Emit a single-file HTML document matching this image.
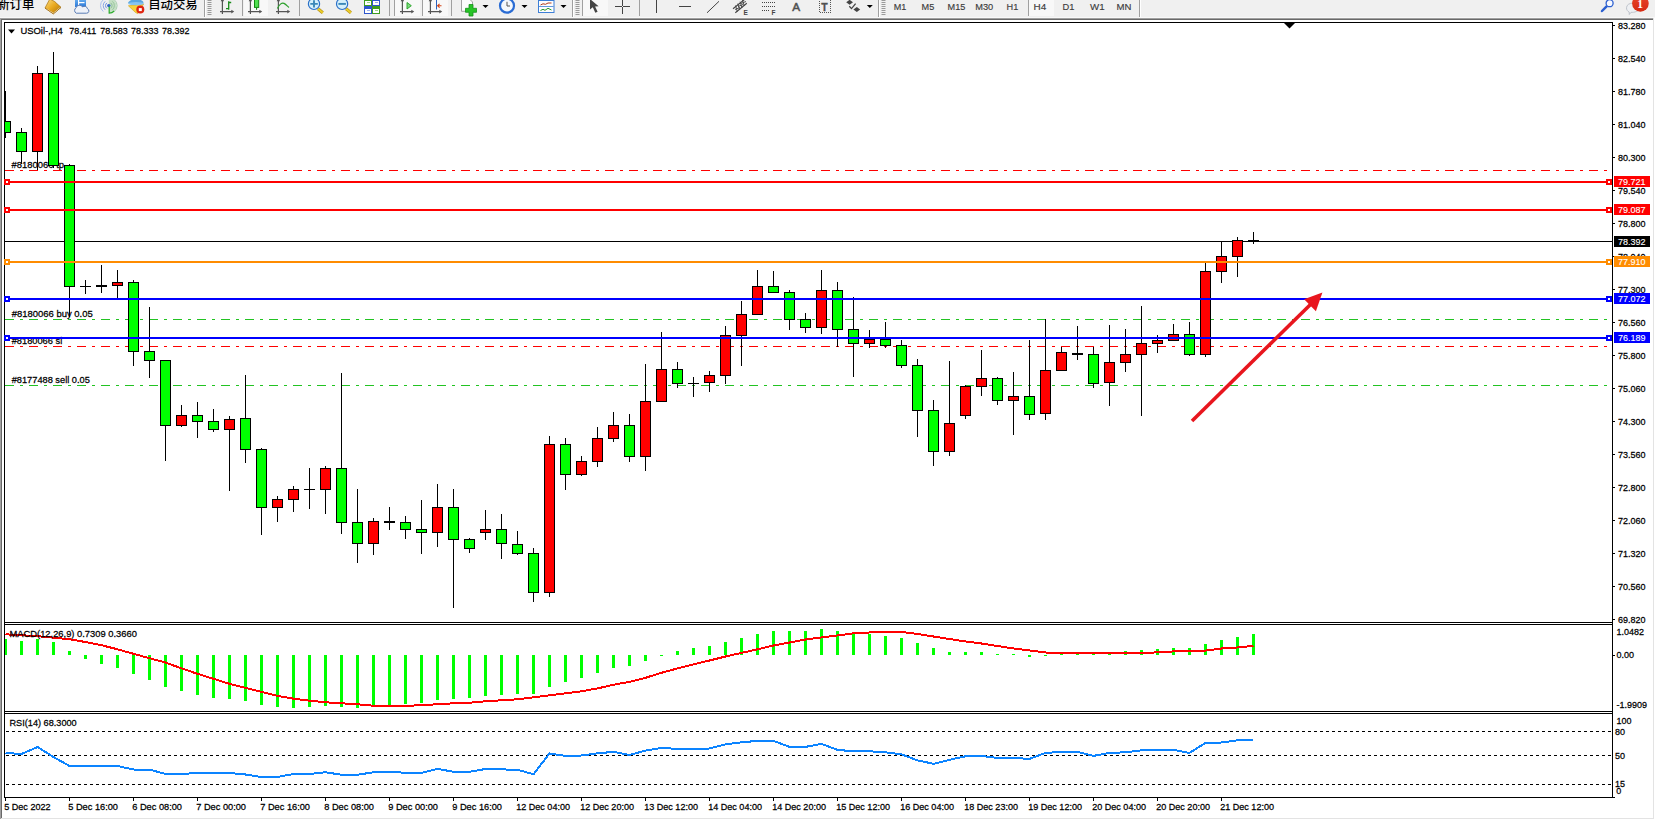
<!DOCTYPE html>
<html><head><meta charset="utf-8"><title>USOil-,H4</title>
<style>
html,body{margin:0;padding:0;background:#fff;}
body{width:1655px;height:820px;overflow:hidden;position:relative;font-family:"Liberation Sans","Noto Sans CJK SC",sans-serif;}
#tb{position:absolute;left:0;top:0;width:1655px;height:17px;background:#f0f0f0;overflow:hidden;}
#tb .t{position:absolute;white-space:nowrap;color:#404040;font-size:9px;line-height:9px;}
#tb .cj{position:absolute;white-space:nowrap;color:#000;font-size:12px;line-height:12px;font-family:"Liberation Sans","Noto Sans CJK SC",sans-serif;}
text{white-space:pre;}
</style></head>
<body>
<div id="tb">
<span class="cj" style="font-weight:500;left:-2.8px;top:-1px;font-size:12.4px;">新订单</span>
<span class="cj" style="font-weight:500;left:148.2px;top:-1px;font-size:12.4px;">自动交易</span>
<svg width="1655" height="17" viewBox="0 0 1655 17" style="position:absolute;left:0;top:0;">
<defs>
<linearGradient id="gold" x1="0" y1="0" x2="1" y2="1"><stop offset="0" stop-color="#fbe08a"/><stop offset=".5" stop-color="#e9a91f"/><stop offset="1" stop-color="#a86f0c"/></linearGradient>
<linearGradient id="redb" x1="0" y1="0" x2="0" y2="1"><stop offset="0" stop-color="#e8452c"/><stop offset="1" stop-color="#d62a12"/></linearGradient>
<linearGradient id="blu" x1="0" y1="0" x2="0" y2="1"><stop offset="0" stop-color="#6ab0f0"/><stop offset="1" stop-color="#2a78d8"/></linearGradient>
<path id="dd" d="M0 0H6L3 3Z" fill="#000"/>
<g id="grip" fill="#9a9a9a"><rect x="0" y="0" width="4" height="1"/><rect x="0" y="2" width="4" height="1"/><rect x="0" y="4" width="4" height="1"/><rect x="0" y="6" width="4" height="1"/><rect x="0" y="8" width="4" height="1"/><rect x="0" y="10" width="4" height="1"/><rect x="0" y="12" width="4" height="1"/><rect x="0" y="14" width="4" height="1"/></g>
<g id="axes"><g stroke="#555" stroke-width="1.2" fill="none"><path d="M2.900 -1V14M0.500 11.600H13"/></g><path d="M14.700 11.600L11.800 9.800V13.400Z" fill="#555"/><path d="M2.900 -2.500L1.200 1.200H4.600Z" fill="#555"/></g>
</defs>
<!-- pressed buttons -->
<g shape-rendering="crispEdges">
<rect x="244" y="0" width="24" height="16" fill="#f8f8f8"/>
<rect x="395" y="0" width="25" height="16" fill="#f8f8f8"/><rect x="394" y="0" width="1" height="16" fill="#a0a0a0"/>
<rect x="423" y="0" width="25" height="16" fill="#f8f8f8"/><rect x="422" y="0" width="1" height="16" fill="#a0a0a0"/>
<rect x="583" y="0" width="25" height="16" fill="#f8f8f8"/><rect x="582" y="0" width="1" height="16" fill="#a0a0a0"/>
<rect x="1029" y="0" width="25" height="16" fill="#f8f8f8"/><rect x="1028" y="0" width="1" height="16" fill="#a0a0a0"/>
<!-- separators -->
<g fill="#a0a0a0">
<rect x="204" y="0" width="1" height="17"/><rect x="242" y="0" width="1" height="16"/><rect x="299" y="0" width="1" height="16"/>
<rect x="389" y="0" width="1" height="16"/><rect x="451" y="0" width="1" height="16"/><rect x="572" y="0" width="1" height="17"/>
<rect x="639" y="0" width="1" height="16"/><rect x="878" y="0" width="1" height="17"/><rect x="1139" y="0" width="1" height="17"/>
</g>
<g fill="#ffffff"><rect x="205" y="0" width="1" height="17"/><rect x="573" y="0" width="1" height="17"/><rect x="879" y="0" width="1" height="17"/><rect x="1140" y="0" width="1" height="17"/></g>
</g>
<use href="#grip" x="207.5" y="0"/><use href="#grip" x="575.5" y="0"/><use href="#grip" x="881.5" y="0"/>
<!-- icon A gold tag -->
<path d="M49.800 -1L54.300 1.300L61 7.300L53.300 13.700L45 8Z" fill="url(#gold)" stroke="#a8700c" stroke-width="0.700"/>
<path d="M46.300 8.800L53.300 13.300L60.300 7.600" fill="none" stroke="#fff6d8" stroke-width="0.900"/>
<path d="M45 8L53.300 13.900L61 7.400" fill="none" stroke="#9a640a" stroke-width="0.800"/>
<!-- icon B screen + cloud -->
<rect x="75" y="-1" width="11" height="8" fill="url(#blu)"/><rect x="79" y="2" width="5.500" height="1.200" fill="#fff"/><rect x="78" y="0" width="1.200" height="6" fill="#fff"/>
<path d="M76.200 13.200A3.200 3.200 0 0 1 76 7.800A3.600 3.600 0 0 1 82.600 7A3 3 0 0 1 87.500 8.800A2.300 2.300 0 0 1 86.500 13.200Z" fill="#eef2f9" stroke="#5b7db5" stroke-width="1"/>
<!-- icon C signal -->
<path d="M108.800 -2A7.600 7.600 0 0 1 108.800 13.300Z" fill="#c4dfc4"/>
<g fill="none" stroke-width="1"><path d="M107 2.900A3.200 3.200 0 0 0 107 8.300" stroke="#6d8fe0"/><path d="M105.200 1.400A5.400 5.400 0 0 0 105.200 9.800" stroke="#86a4e6"/><path d="M103.300 -0.300A7.600 7.600 0 0 0 103.300 11.500" stroke="#a9bfee"/>
<path d="M110.600 2.900A3.200 3.200 0 0 1 110.600 8.300" stroke="#8fbf9a"/><path d="M112.400 1.400A5.400 5.400 0 0 1 112.400 9.800" stroke="#9ac79f"/><path d="M114.300 -0.300A7.600 7.600 0 0 1 114.300 11.500" stroke="#a8cfae"/></g>
<circle cx="108.800" cy="5.600" r="1.700" fill="#2f62c4"/><path d="M109.200 6.500V13.200A7.600 7.600 0 0 0 114.200 11" fill="none" stroke="#2fae2f" stroke-width="1.200"/>
<!-- icon D hat funnel stop -->
<path d="M128.400 5.800L143.600 4L137.700 13.600L135.500 12.500Z" fill="#f6d23a" stroke="#d0a012" stroke-width="0.600"/>
<path d="M128 3C130 -2 142 -2 143.600 2.500C141 5.200 131 5.400 128 3Z" fill="#5aa6e0"/><ellipse cx="136" cy="3.600" rx="7.800" ry="1.700" fill="#86c4f0"/>
<circle cx="140.300" cy="9.600" r="4" fill="#df2410"/><rect x="138.800" y="8.100" width="3" height="3" fill="#fff"/>
<!-- bars icon -->
<use href="#axes" x="219.500" y="0"/><path d="M226 8.600H228.700M228.700 1.200V9.700M228.700 2.500H231.200" fill="none" stroke="#1a8a1a" stroke-width="1.300"/>
<!-- candle icon -->
<use href="#axes" x="247.500" y="0"/><rect x="254.500" y="-1" width="4.200" height="8.400" fill="#4fe04f" stroke="#128a12" stroke-width="1"/><rect x="256" y="7.500" width="1.100" height="2.300" fill="#128a12"/>
<!-- line icon -->
<use href="#axes" x="275.500" y="0"/><path d="M277.400 8.600C279.500 4 282 2.300 284 3.400C286 4.500 287.500 6.300 289 7.500" fill="none" stroke="#2da02d" stroke-width="1.200"/>
<!-- zoom in / out -->
<g><path d="M318 8.800L322.800 12.700" stroke="#b8901a" stroke-width="3.200" stroke-linecap="butt"/><path d="M318 8.800L322.800 12.700" stroke="#ecd02a" stroke-width="1.800"/><circle cx="314" cy="3.900" r="5.600" fill="#d5f0fb" stroke="#2a70c8" stroke-width="1.200"/><path d="M310.300 3.900H317.800M314 0.200V7.600" stroke="#3a88b8" stroke-width="1.900"/></g>
<g><path d="M346.100 8.800L350.900 12.700" stroke="#b8901a" stroke-width="3.200" stroke-linecap="butt"/><path d="M346.100 8.800L350.900 12.700" stroke="#ecd02a" stroke-width="1.800"/><circle cx="342.100" cy="3.900" r="5.600" fill="#d5f0fb" stroke="#2a70c8" stroke-width="1.200"/><path d="M338.400 3.900H345.900" stroke="#3a88b8" stroke-width="1.900"/></g>
<!-- grid icon -->
<g shape-rendering="crispEdges"><rect x="364" y="-1" width="8" height="7" fill="#3f9e1f"/><rect x="372" y="-1" width="8" height="7" fill="#2d55cc"/><rect x="364" y="6" width="8" height="8" fill="#2d55cc"/><rect x="372" y="6" width="8" height="8" fill="#3f9e1f"/>
<rect x="365" y="1" width="6" height="4" fill="#fff"/><rect x="373" y="1" width="6" height="4" fill="#fff"/><rect x="365" y="9" width="6" height="4" fill="#fff"/><rect x="373" y="9" width="6" height="4" fill="#fff"/>
<rect x="366.500" y="2" width="3.500" height="1" fill="#9ed08a"/><rect x="374.500" y="2" width="3.500" height="1" fill="#9ab0ee"/><rect x="366.500" y="10" width="3.500" height="1" fill="#9ab0ee"/><rect x="374.500" y="10" width="3.500" height="1" fill="#9ed08a"/></g>
<!-- autoscroll -->
<use href="#axes" x="399.500" y="0"/><path d="M407 2.500V9L411.300 5.700Z" fill="#7fdc7f" stroke="#23a023" stroke-width="0.900"/>
<!-- chart shift -->
<use href="#axes" x="427.500" y="0"/><rect x="436" y="0" width="1" height="9.500" fill="#2b63c0"/><path d="M441.500 5.700H437.800M439.600 3.800L437.600 5.700L439.600 7.600" fill="none" stroke="#d2461a" stroke-width="1.100"/>
<!-- new chart -->
<path d="M461.500 -1H469.500L472.500 2V11.300H461.500Z" fill="#fcfcfc" stroke="#9a9a9a" stroke-width="0.900"/>
<path d="M469 4.500H473V8.300H476.500V12.300H473V16H469V12.300H465.500V8.300H469Z" fill="#27c427" stroke="#15901a" stroke-width="0.800"/>
<use href="#dd" x="482.500" y="5"/>
<!-- clock -->
<circle cx="507" cy="5.700" r="7" fill="#f4f8fd" stroke="#2a6cd4" stroke-width="2.200"/><path d="M507 1.800V6H510" fill="none" stroke="#555" stroke-width="1"/>
<use href="#dd" x="521.500" y="5"/>
<!-- template -->
<rect x="538.500" y="-1" width="15.500" height="13.500" fill="#fdfdfd" stroke="#3d7fd6" stroke-width="1"/><rect x="538.500" y="-1" width="15.500" height="2" fill="#3d7fd6"/><rect x="539" y="6" width="14.500" height="0.800" fill="#3d7fd6"/>
<path d="M540.500 5L543 3.800L545.500 4.300L548 3L551.500 3" fill="none" stroke="#b03a1a" stroke-width="1"/><path d="M540.500 10.500L543 9.300L545 10.300L548 8.300L551.500 10" fill="none" stroke="#2a9a2a" stroke-width="1"/>
<use href="#dd" x="560.500" y="5"/>
<!-- cursor -->
<path d="M590 -1V9.600L592.800 7.300L595.300 12.800L597.600 11.800L595.100 6.500L598.600 6.300Z" fill="#444"/>
<!-- crosshair -->
<g shape-rendering="crispEdges" fill="#444"><rect x="622" y="0" width="1" height="14"/><rect x="615" y="6" width="15" height="1"/><rect x="622" y="6" width="1" height="1" fill="#f0f0f0"/>
<rect x="656" y="0" width="1" height="13"/><rect x="679" y="6" width="12" height="1"/></g>
<path d="M707 12.800L719 1.300" stroke="#444" stroke-width="1"/>
<!-- channel E -->
<g stroke="#444" stroke-width="1.100" fill="none"><path d="M733 8.800L744.500 -0.500M735.300 12.700L746.800 3.300"/><path d="M735.500 5.500L737.300 11.500M737.800 3.600L739.600 9.600M740.100 1.700L741.900 7.700M742.400 -0.200L744.200 5.800M735 9.500L740 7.500M738 6.500L743 4.500M741 3.500L746 1.500" stroke-width="0.900"/></g>
<text x="743.600" y="14.600" font-size="6.500" font-weight="bold" fill="#444" style="font-family:'Liberation Sans',sans-serif">E</text>
<!-- fibo F -->
<g stroke="#444" stroke-width="1" stroke-dasharray="1 1" shape-rendering="crispEdges"><path d="M762 2.500H775M762 6.500H775M762 10.500H770"/></g>
<text x="771.500" y="14.600" font-size="6.500" font-weight="bold" fill="#444" style="font-family:'Liberation Sans',sans-serif">F</text>
<!-- A -->
<text x="792.300" y="10.800" font-size="11.800" fill="#505050" stroke="#505050" stroke-width="0.500" style="font-family:'Liberation Sans',sans-serif">A</text>
<!-- T box -->
<rect x="819.500" y="-1" width="11" height="13.500" fill="none" stroke="#555" stroke-width="1" stroke-dasharray="1 1" shape-rendering="crispEdges"/>
<text x="821.200" y="10.800" font-size="10.500" font-weight="bold" fill="#505050" stroke="#505050" stroke-width="0.300" style="font-family:'Liberation Sans',sans-serif">T</text>
<!-- arrows icon -->
<path d="M849.600 -0.200L853 2.300L849.600 4.800L846.200 2.300Z" fill="#444"/><path d="M856.800 6.900L860.200 9.400L856.800 11.900L853.400 9.400Z" fill="#444"/><path d="M849.300 6.300L851.500 8.600L855.600 3.600" fill="none" stroke="#444" stroke-width="1.300"/>
<use href="#dd" x="866.800" y="5"/>
<!-- periods -->
<text x="893.7" y="9.6" font-size="9.3" fill="#3c3c3c" stroke="#3c3c3c" stroke-width="0.15" textLength="12.6" lengthAdjust="spacingAndGlyphs" style="font-family:'Liberation Sans',sans-serif">M1</text>
<text x="921.6" y="9.6" font-size="9.3" fill="#3c3c3c" stroke="#3c3c3c" stroke-width="0.15" textLength="12.7" lengthAdjust="spacingAndGlyphs" style="font-family:'Liberation Sans',sans-serif">M5</text>
<text x="947.6" y="9.6" font-size="9.3" fill="#3c3c3c" stroke="#3c3c3c" stroke-width="0.15" textLength="17.8" lengthAdjust="spacingAndGlyphs" style="font-family:'Liberation Sans',sans-serif">M15</text>
<text x="975.2" y="9.6" font-size="9.3" fill="#3c3c3c" stroke="#3c3c3c" stroke-width="0.15" textLength="18.0" lengthAdjust="spacingAndGlyphs" style="font-family:'Liberation Sans',sans-serif">M30</text>
<text x="1006.6" y="9.6" font-size="9.3" fill="#3c3c3c" stroke="#3c3c3c" stroke-width="0.15" textLength="11.7" lengthAdjust="spacingAndGlyphs" style="font-family:'Liberation Sans',sans-serif">H1</text>
<text x="1033.5" y="9.6" font-size="9.3" fill="#3c3c3c" stroke="#3c3c3c" stroke-width="0.15" textLength="12.7" lengthAdjust="spacingAndGlyphs" style="font-family:'Liberation Sans',sans-serif">H4</text>
<text x="1062.5" y="9.6" font-size="9.3" fill="#3c3c3c" stroke="#3c3c3c" stroke-width="0.15" textLength="11.9" lengthAdjust="spacingAndGlyphs" style="font-family:'Liberation Sans',sans-serif">D1</text>
<text x="1090" y="9.6" font-size="9.3" fill="#3c3c3c" stroke="#3c3c3c" stroke-width="0.15" textLength="14.6" lengthAdjust="spacingAndGlyphs" style="font-family:'Liberation Sans',sans-serif">W1</text>
<text x="1116.6" y="9.6" font-size="9.3" fill="#3c3c3c" stroke="#3c3c3c" stroke-width="0.15" textLength="14.9" lengthAdjust="spacingAndGlyphs" style="font-family:'Liberation Sans',sans-serif">MN</text>
<!-- search -->
<path d="M1606.600 6.300L1602 11" stroke="#2b5fd0" stroke-width="2.500" stroke-linecap="round"/><circle cx="1609.600" cy="3.200" r="3.500" fill="#f7f9ff" stroke="#2b5fd0" stroke-width="1.300"/>
<!-- bubble -->
<path d="M1626.500 7.800C1626.500 1.500 1639.500 1.500 1639.500 7.800C1639.500 11.500 1634 12.600 1631 12.300L1629.300 14.500L1629.200 12C1627.500 11.300 1626.500 9.800 1626.500 7.800Z" fill="#eef0f3" stroke="#b9bec6" stroke-width="0.900"/>
<circle cx="1640.400" cy="3.500" r="8.300" fill="url(#redb)"/>
<text x="1637.300" y="8" font-size="11.500" font-weight="bold" fill="#fff" style="font-family:'Liberation Serif',serif">1</text>
</svg>

</div>
<svg width="1655" height="820" viewBox="0 0 1655 820" style="position:absolute;left:0;top:0" shape-rendering="crispEdges">
<defs><clipPath id="cp"><rect x="5" y="23" width="1607" height="599"/></clipPath><clipPath id="cm"><rect x="5" y="625" width="1607" height="86"/></clipPath></defs>
<rect x="0" y="18" width="1655" height="1" fill="#a0a0a0"/>
<rect x="0" y="19" width="1655" height="1" fill="#696969"/>
<rect x="0" y="18" width="1" height="802" fill="#a0a0a0"/>
<rect x="1" y="19" width="1" height="801" fill="#696969"/>
<rect x="1653" y="18" width="1" height="801" fill="#e3e3e3"/>
<rect x="1654" y="18" width="1" height="802" fill="#ffffff"/>
<rect x="1" y="818" width="1653" height="1" fill="#e3e3e3"/>
<rect x="0" y="819" width="1655" height="1" fill="#ffffff"/>
<rect x="0" y="17" width="1655" height="1" fill="#f8f8f8"/>
<rect x="4" y="22" width="1609" height="1" fill="#000"/>
<rect x="4" y="22" width="1" height="776" fill="#000"/>
<rect x="1612" y="22" width="1" height="776" fill="#000"/>
<rect x="4" y="622" width="1609" height="1" fill="#000"/>
<rect x="4" y="624" width="1609" height="1" fill="#000"/>
<rect x="4" y="711" width="1609" height="1" fill="#000"/>
<rect x="4" y="713" width="1609" height="1" fill="#000"/>
<rect x="4" y="797" width="1609" height="1" fill="#000"/>
<path d="M1284 23H1295L1289.5 28.5Z" fill="#000" shape-rendering="auto"/>
<text transform="translate(11.6,168) scale(0.928,1)" font-size="9.698" fill="#000" stroke="#000" stroke-width="0.25" style="font-family:'Liberation Sans',sans-serif"  textLength="56.47" lengthAdjust="spacingAndGlyphs">#8180066 tp</text>
<text transform="translate(11.7,317) scale(0.928,1)" font-size="9.698" fill="#000" stroke="#000" stroke-width="0.25" style="font-family:'Liberation Sans',sans-serif"  textLength="87.28" lengthAdjust="spacingAndGlyphs">#8180066 buy 0.05</text>
<text transform="translate(11.7,344) scale(0.928,1)" font-size="9.698" fill="#000" stroke="#000" stroke-width="0.25" style="font-family:'Liberation Sans',sans-serif"  textLength="54.42" lengthAdjust="spacingAndGlyphs">#8180066 sl</text>
<text transform="translate(11.7,383) scale(0.928,1)" font-size="9.698" fill="#000" stroke="#000" stroke-width="0.25" style="font-family:'Liberation Sans',sans-serif"  textLength="84.16" lengthAdjust="spacingAndGlyphs">#8177488 sell 0.05</text>
<line x1="5" y1="170.5" x2="1608" y2="170.5" stroke="#ff0000" stroke-width="1" stroke-dasharray="9 6 3 6"/>
<line x1="5" y1="319.5" x2="1608" y2="319.5" stroke="#22c322" stroke-width="1" stroke-dasharray="9 6 3 6"/>
<line x1="5" y1="346.5" x2="1608" y2="346.5" stroke="#ff0000" stroke-width="1" stroke-dasharray="9 6 3 6"/>
<line x1="5" y1="385.5" x2="1608" y2="385.5" stroke="#22c322" stroke-width="1" stroke-dasharray="9 6 3 6"/>
<rect x="5" y="241" width="1607" height="1" fill="#000"/>
<g clip-path="url(#cp)">
<rect x="5" y="91" width="1" height="47" fill="#000"/>
<rect x="0" y="121" width="11" height="12" fill="#000"/>
<rect x="1" y="122" width="9" height="10" fill="#00ff00"/>
<rect x="21" y="128" width="1" height="36" fill="#000"/>
<rect x="16" y="132" width="11" height="20" fill="#000"/>
<rect x="17" y="133" width="9" height="18" fill="#00ff00"/>
<rect x="37" y="66" width="1" height="104" fill="#000"/>
<rect x="32" y="73" width="11" height="79" fill="#000"/>
<rect x="33" y="74" width="9" height="77" fill="#ff0000"/>
<rect x="53" y="52" width="1" height="116" fill="#000"/>
<rect x="48" y="73" width="11" height="93" fill="#000"/>
<rect x="49" y="74" width="9" height="91" fill="#00ff00"/>
<rect x="69" y="164" width="1" height="153" fill="#000"/>
<rect x="64" y="165" width="11" height="122" fill="#000"/>
<rect x="65" y="166" width="9" height="120" fill="#00ff00"/>
<rect x="85" y="280" width="1" height="14" fill="#000"/>
<rect x="80" y="286" width="11" height="1" fill="#000"/>
<rect x="101" y="265" width="1" height="28" fill="#000"/>
<rect x="96" y="285" width="11" height="2" fill="#000"/>
<rect x="117" y="270" width="1" height="30" fill="#000"/>
<rect x="112" y="282" width="11" height="4" fill="#000"/>
<rect x="113" y="283" width="9" height="2" fill="#ff0000"/>
<rect x="133" y="280" width="1" height="86" fill="#000"/>
<rect x="128" y="282" width="11" height="70" fill="#000"/>
<rect x="129" y="283" width="9" height="68" fill="#00ff00"/>
<rect x="149" y="307" width="1" height="71" fill="#000"/>
<rect x="144" y="351" width="11" height="10" fill="#000"/>
<rect x="145" y="352" width="9" height="8" fill="#00ff00"/>
<rect x="165" y="360" width="1" height="101" fill="#000"/>
<rect x="160" y="360" width="11" height="66" fill="#000"/>
<rect x="161" y="361" width="9" height="64" fill="#00ff00"/>
<rect x="181" y="405" width="1" height="22" fill="#000"/>
<rect x="176" y="415" width="11" height="11" fill="#000"/>
<rect x="177" y="416" width="9" height="9" fill="#ff0000"/>
<rect x="197" y="402" width="1" height="36" fill="#000"/>
<rect x="192" y="415" width="11" height="7" fill="#000"/>
<rect x="193" y="416" width="9" height="5" fill="#00ff00"/>
<rect x="213" y="409" width="1" height="23" fill="#000"/>
<rect x="208" y="421" width="11" height="9" fill="#000"/>
<rect x="209" y="422" width="9" height="7" fill="#00ff00"/>
<rect x="229" y="416" width="1" height="75" fill="#000"/>
<rect x="224" y="419" width="11" height="11" fill="#000"/>
<rect x="225" y="420" width="9" height="9" fill="#ff0000"/>
<rect x="245" y="375" width="1" height="88" fill="#000"/>
<rect x="240" y="418" width="11" height="32" fill="#000"/>
<rect x="241" y="419" width="9" height="30" fill="#00ff00"/>
<rect x="261" y="448" width="1" height="87" fill="#000"/>
<rect x="256" y="449" width="11" height="59" fill="#000"/>
<rect x="257" y="450" width="9" height="57" fill="#00ff00"/>
<rect x="277" y="496" width="1" height="26" fill="#000"/>
<rect x="272" y="499" width="11" height="9" fill="#000"/>
<rect x="273" y="500" width="9" height="7" fill="#ff0000"/>
<rect x="293" y="486" width="1" height="26" fill="#000"/>
<rect x="288" y="489" width="11" height="11" fill="#000"/>
<rect x="289" y="490" width="9" height="9" fill="#ff0000"/>
<rect x="309" y="468" width="1" height="41" fill="#000"/>
<rect x="304" y="489" width="11" height="1" fill="#000"/>
<rect x="325" y="466" width="1" height="48" fill="#000"/>
<rect x="320" y="468" width="11" height="22" fill="#000"/>
<rect x="321" y="469" width="9" height="20" fill="#ff0000"/>
<rect x="341" y="373" width="1" height="161" fill="#000"/>
<rect x="336" y="468" width="11" height="55" fill="#000"/>
<rect x="337" y="469" width="9" height="53" fill="#00ff00"/>
<rect x="357" y="489" width="1" height="74" fill="#000"/>
<rect x="352" y="522" width="11" height="22" fill="#000"/>
<rect x="353" y="523" width="9" height="20" fill="#00ff00"/>
<rect x="373" y="518" width="1" height="37" fill="#000"/>
<rect x="368" y="521" width="11" height="23" fill="#000"/>
<rect x="369" y="522" width="9" height="21" fill="#ff0000"/>
<rect x="389" y="507" width="1" height="23" fill="#000"/>
<rect x="384" y="521" width="11" height="2" fill="#000"/>
<rect x="405" y="516" width="1" height="23" fill="#000"/>
<rect x="400" y="522" width="11" height="8" fill="#000"/>
<rect x="401" y="523" width="9" height="6" fill="#00ff00"/>
<rect x="421" y="500" width="1" height="54" fill="#000"/>
<rect x="416" y="529" width="11" height="4" fill="#000"/>
<rect x="417" y="530" width="9" height="2" fill="#00ff00"/>
<rect x="437" y="484" width="1" height="63" fill="#000"/>
<rect x="432" y="507" width="11" height="26" fill="#000"/>
<rect x="433" y="508" width="9" height="24" fill="#ff0000"/>
<rect x="453" y="489" width="1" height="119" fill="#000"/>
<rect x="448" y="507" width="11" height="33" fill="#000"/>
<rect x="449" y="508" width="9" height="31" fill="#00ff00"/>
<rect x="469" y="538" width="1" height="15" fill="#000"/>
<rect x="464" y="539" width="11" height="10" fill="#000"/>
<rect x="465" y="540" width="9" height="8" fill="#00ff00"/>
<rect x="485" y="510" width="1" height="30" fill="#000"/>
<rect x="480" y="529" width="11" height="4" fill="#000"/>
<rect x="481" y="530" width="9" height="2" fill="#ff0000"/>
<rect x="501" y="514" width="1" height="45" fill="#000"/>
<rect x="496" y="529" width="11" height="15" fill="#000"/>
<rect x="497" y="530" width="9" height="13" fill="#00ff00"/>
<rect x="517" y="531" width="1" height="24" fill="#000"/>
<rect x="512" y="544" width="11" height="10" fill="#000"/>
<rect x="513" y="545" width="9" height="8" fill="#00ff00"/>
<rect x="533" y="548" width="1" height="54" fill="#000"/>
<rect x="528" y="553" width="11" height="40" fill="#000"/>
<rect x="529" y="554" width="9" height="38" fill="#00ff00"/>
<rect x="549" y="436" width="1" height="161" fill="#000"/>
<rect x="544" y="444" width="11" height="149" fill="#000"/>
<rect x="545" y="445" width="9" height="147" fill="#ff0000"/>
<rect x="565" y="438" width="1" height="52" fill="#000"/>
<rect x="560" y="444" width="11" height="31" fill="#000"/>
<rect x="561" y="445" width="9" height="29" fill="#00ff00"/>
<rect x="581" y="456" width="1" height="20" fill="#000"/>
<rect x="576" y="461" width="11" height="14" fill="#000"/>
<rect x="577" y="462" width="9" height="12" fill="#ff0000"/>
<rect x="597" y="427" width="1" height="40" fill="#000"/>
<rect x="592" y="438" width="11" height="24" fill="#000"/>
<rect x="593" y="439" width="9" height="22" fill="#ff0000"/>
<rect x="613" y="412" width="1" height="30" fill="#000"/>
<rect x="608" y="425" width="11" height="14" fill="#000"/>
<rect x="609" y="426" width="9" height="12" fill="#ff0000"/>
<rect x="629" y="414" width="1" height="48" fill="#000"/>
<rect x="624" y="425" width="11" height="32" fill="#000"/>
<rect x="625" y="426" width="9" height="30" fill="#00ff00"/>
<rect x="645" y="364" width="1" height="107" fill="#000"/>
<rect x="640" y="401" width="11" height="56" fill="#000"/>
<rect x="641" y="402" width="9" height="54" fill="#ff0000"/>
<rect x="661" y="332" width="1" height="69" fill="#000"/>
<rect x="656" y="369" width="11" height="33" fill="#000"/>
<rect x="657" y="370" width="9" height="31" fill="#ff0000"/>
<rect x="677" y="362" width="1" height="26" fill="#000"/>
<rect x="672" y="369" width="11" height="15" fill="#000"/>
<rect x="673" y="370" width="9" height="13" fill="#00ff00"/>
<rect x="693" y="377" width="1" height="20" fill="#000"/>
<rect x="688" y="383" width="11" height="1" fill="#000"/>
<rect x="709" y="371" width="1" height="21" fill="#000"/>
<rect x="704" y="375" width="11" height="8" fill="#000"/>
<rect x="705" y="376" width="9" height="6" fill="#ff0000"/>
<rect x="725" y="326" width="1" height="58" fill="#000"/>
<rect x="720" y="335" width="11" height="41" fill="#000"/>
<rect x="721" y="336" width="9" height="39" fill="#ff0000"/>
<rect x="741" y="301" width="1" height="65" fill="#000"/>
<rect x="736" y="314" width="11" height="22" fill="#000"/>
<rect x="737" y="315" width="9" height="20" fill="#ff0000"/>
<rect x="757" y="270" width="1" height="44" fill="#000"/>
<rect x="752" y="286" width="11" height="29" fill="#000"/>
<rect x="753" y="287" width="9" height="27" fill="#ff0000"/>
<rect x="773" y="271" width="1" height="21" fill="#000"/>
<rect x="768" y="286" width="11" height="7" fill="#000"/>
<rect x="769" y="287" width="9" height="5" fill="#00ff00"/>
<rect x="789" y="290" width="1" height="40" fill="#000"/>
<rect x="784" y="292" width="11" height="28" fill="#000"/>
<rect x="785" y="293" width="9" height="26" fill="#00ff00"/>
<rect x="805" y="313" width="1" height="20" fill="#000"/>
<rect x="800" y="319" width="11" height="9" fill="#000"/>
<rect x="801" y="320" width="9" height="7" fill="#00ff00"/>
<rect x="821" y="270" width="1" height="64" fill="#000"/>
<rect x="816" y="290" width="11" height="38" fill="#000"/>
<rect x="817" y="291" width="9" height="36" fill="#ff0000"/>
<rect x="837" y="282" width="1" height="65" fill="#000"/>
<rect x="832" y="290" width="11" height="40" fill="#000"/>
<rect x="833" y="291" width="9" height="38" fill="#00ff00"/>
<rect x="853" y="297" width="1" height="80" fill="#000"/>
<rect x="848" y="329" width="11" height="15" fill="#000"/>
<rect x="849" y="330" width="9" height="13" fill="#00ff00"/>
<rect x="869" y="330" width="1" height="18" fill="#000"/>
<rect x="864" y="339" width="11" height="5" fill="#000"/>
<rect x="865" y="340" width="9" height="3" fill="#ff0000"/>
<rect x="885" y="322" width="1" height="26" fill="#000"/>
<rect x="880" y="339" width="11" height="7" fill="#000"/>
<rect x="881" y="340" width="9" height="5" fill="#00ff00"/>
<rect x="901" y="340" width="1" height="28" fill="#000"/>
<rect x="896" y="345" width="11" height="21" fill="#000"/>
<rect x="897" y="346" width="9" height="19" fill="#00ff00"/>
<rect x="917" y="359" width="1" height="78" fill="#000"/>
<rect x="912" y="365" width="11" height="46" fill="#000"/>
<rect x="913" y="366" width="9" height="44" fill="#00ff00"/>
<rect x="933" y="400" width="1" height="66" fill="#000"/>
<rect x="928" y="410" width="11" height="42" fill="#000"/>
<rect x="929" y="411" width="9" height="40" fill="#00ff00"/>
<rect x="949" y="361" width="1" height="95" fill="#000"/>
<rect x="944" y="423" width="11" height="29" fill="#000"/>
<rect x="945" y="424" width="9" height="27" fill="#ff0000"/>
<rect x="965" y="385" width="1" height="34" fill="#000"/>
<rect x="960" y="386" width="11" height="30" fill="#000"/>
<rect x="961" y="387" width="9" height="28" fill="#ff0000"/>
<rect x="981" y="350" width="1" height="46" fill="#000"/>
<rect x="976" y="378" width="11" height="9" fill="#000"/>
<rect x="977" y="379" width="9" height="7" fill="#ff0000"/>
<rect x="997" y="377" width="1" height="28" fill="#000"/>
<rect x="992" y="378" width="11" height="23" fill="#000"/>
<rect x="993" y="379" width="9" height="21" fill="#00ff00"/>
<rect x="1013" y="372" width="1" height="63" fill="#000"/>
<rect x="1008" y="396" width="11" height="5" fill="#000"/>
<rect x="1009" y="397" width="9" height="3" fill="#ff0000"/>
<rect x="1029" y="340" width="1" height="80" fill="#000"/>
<rect x="1024" y="396" width="11" height="19" fill="#000"/>
<rect x="1025" y="397" width="9" height="17" fill="#00ff00"/>
<rect x="1045" y="319" width="1" height="101" fill="#000"/>
<rect x="1040" y="370" width="11" height="44" fill="#000"/>
<rect x="1041" y="371" width="9" height="42" fill="#ff0000"/>
<rect x="1061" y="347" width="1" height="23" fill="#000"/>
<rect x="1056" y="352" width="11" height="19" fill="#000"/>
<rect x="1057" y="353" width="9" height="17" fill="#ff0000"/>
<rect x="1077" y="326" width="1" height="34" fill="#000"/>
<rect x="1072" y="353" width="11" height="2" fill="#000"/>
<rect x="1093" y="347" width="1" height="41" fill="#000"/>
<rect x="1088" y="354" width="11" height="30" fill="#000"/>
<rect x="1089" y="355" width="9" height="28" fill="#00ff00"/>
<rect x="1109" y="325" width="1" height="81" fill="#000"/>
<rect x="1104" y="362" width="11" height="21" fill="#000"/>
<rect x="1105" y="363" width="9" height="19" fill="#ff0000"/>
<rect x="1125" y="329" width="1" height="43" fill="#000"/>
<rect x="1120" y="354" width="11" height="9" fill="#000"/>
<rect x="1121" y="355" width="9" height="7" fill="#ff0000"/>
<rect x="1141" y="306" width="1" height="110" fill="#000"/>
<rect x="1136" y="343" width="11" height="12" fill="#000"/>
<rect x="1137" y="344" width="9" height="10" fill="#ff0000"/>
<rect x="1157" y="335" width="1" height="18" fill="#000"/>
<rect x="1152" y="340" width="11" height="4" fill="#000"/>
<rect x="1153" y="341" width="9" height="2" fill="#ff0000"/>
<rect x="1173" y="324" width="1" height="16" fill="#000"/>
<rect x="1168" y="334" width="11" height="7" fill="#000"/>
<rect x="1169" y="335" width="9" height="5" fill="#ff0000"/>
<rect x="1189" y="322" width="1" height="34" fill="#000"/>
<rect x="1184" y="334" width="11" height="21" fill="#000"/>
<rect x="1185" y="335" width="9" height="19" fill="#00ff00"/>
<rect x="1205" y="263" width="1" height="94" fill="#000"/>
<rect x="1200" y="271" width="11" height="84" fill="#000"/>
<rect x="1201" y="272" width="9" height="82" fill="#ff0000"/>
<rect x="1221" y="241" width="1" height="42" fill="#000"/>
<rect x="1216" y="256" width="11" height="16" fill="#000"/>
<rect x="1217" y="257" width="9" height="14" fill="#ff0000"/>
<rect x="1237" y="237" width="1" height="40" fill="#000"/>
<rect x="1232" y="240" width="11" height="17" fill="#000"/>
<rect x="1233" y="241" width="9" height="15" fill="#ff0000"/>
<rect x="1253" y="232" width="1" height="12" fill="#000"/>
<rect x="1248" y="240" width="11" height="2" fill="#000"/>
</g>
<rect x="5" y="181" width="1607" height="2" fill="#ff0000"/>
<rect x="4" y="179" width="6" height="6" fill="#ff0000"/>
<rect x="6" y="181" width="2" height="2" fill="#fff"/>
<rect x="1606" y="179" width="6" height="6" fill="#ff0000"/>
<rect x="1608" y="181" width="2" height="2" fill="#fff"/>
<rect x="5" y="209" width="1607" height="2" fill="#ff0000"/>
<rect x="4" y="207" width="6" height="6" fill="#ff0000"/>
<rect x="6" y="209" width="2" height="2" fill="#fff"/>
<rect x="1606" y="207" width="6" height="6" fill="#ff0000"/>
<rect x="1608" y="209" width="2" height="2" fill="#fff"/>
<rect x="5" y="261" width="1607" height="2" fill="#ff8c00"/>
<rect x="4" y="259" width="6" height="6" fill="#ff8c00"/>
<rect x="6" y="261" width="2" height="2" fill="#fff"/>
<rect x="1606" y="259" width="6" height="6" fill="#ff8c00"/>
<rect x="1608" y="261" width="2" height="2" fill="#fff"/>
<rect x="5" y="298" width="1607" height="2" fill="#0000ff"/>
<rect x="4" y="296" width="6" height="6" fill="#0000ff"/>
<rect x="6" y="298" width="2" height="2" fill="#fff"/>
<rect x="1606" y="296" width="6" height="6" fill="#0000ff"/>
<rect x="1608" y="298" width="2" height="2" fill="#fff"/>
<rect x="5" y="337" width="1607" height="2" fill="#0000ff"/>
<rect x="4" y="335" width="6" height="6" fill="#0000ff"/>
<rect x="6" y="337" width="2" height="2" fill="#fff"/>
<rect x="1606" y="335" width="6" height="6" fill="#0000ff"/>
<rect x="1608" y="337" width="2" height="2" fill="#fff"/>
<g shape-rendering="auto"><line x1="1192" y1="421" x2="1311" y2="304" stroke="#e8161e" stroke-width="3.6"/><path d="M1322.4 292.4L1304.1 299.3L1315.9 311.2Z" fill="#e8161e"/></g>
<g clip-path="url(#cm)">
<rect x="4" y="639" width="3" height="16" fill="#00ff00"/>
<rect x="20" y="641" width="3" height="14" fill="#00ff00"/>
<rect x="36" y="639" width="3" height="16" fill="#00ff00"/>
<rect x="52" y="642" width="3" height="13" fill="#00ff00"/>
<rect x="68" y="651" width="3" height="4" fill="#00ff00"/>
<rect x="84" y="655" width="3" height="4" fill="#00ff00"/>
<rect x="100" y="655" width="3" height="9" fill="#00ff00"/>
<rect x="116" y="655" width="3" height="13" fill="#00ff00"/>
<rect x="132" y="655" width="3" height="19" fill="#00ff00"/>
<rect x="148" y="655" width="3" height="25" fill="#00ff00"/>
<rect x="164" y="655" width="3" height="32" fill="#00ff00"/>
<rect x="180" y="655" width="3" height="36" fill="#00ff00"/>
<rect x="196" y="655" width="3" height="40" fill="#00ff00"/>
<rect x="212" y="655" width="3" height="43" fill="#00ff00"/>
<rect x="228" y="655" width="3" height="44" fill="#00ff00"/>
<rect x="244" y="655" width="3" height="46" fill="#00ff00"/>
<rect x="260" y="655" width="3" height="50" fill="#00ff00"/>
<rect x="276" y="655" width="3" height="52" fill="#00ff00"/>
<rect x="292" y="655" width="3" height="53" fill="#00ff00"/>
<rect x="308" y="655" width="3" height="52" fill="#00ff00"/>
<rect x="324" y="655" width="3" height="51" fill="#00ff00"/>
<rect x="340" y="655" width="3" height="52" fill="#00ff00"/>
<rect x="356" y="655" width="3" height="53" fill="#00ff00"/>
<rect x="372" y="655" width="3" height="52" fill="#00ff00"/>
<rect x="388" y="655" width="3" height="50" fill="#00ff00"/>
<rect x="404" y="655" width="3" height="49" fill="#00ff00"/>
<rect x="420" y="655" width="3" height="48" fill="#00ff00"/>
<rect x="436" y="655" width="3" height="45" fill="#00ff00"/>
<rect x="452" y="655" width="3" height="44" fill="#00ff00"/>
<rect x="468" y="655" width="3" height="43" fill="#00ff00"/>
<rect x="484" y="655" width="3" height="41" fill="#00ff00"/>
<rect x="500" y="655" width="3" height="40" fill="#00ff00"/>
<rect x="516" y="655" width="3" height="39" fill="#00ff00"/>
<rect x="532" y="655" width="3" height="39" fill="#00ff00"/>
<rect x="548" y="655" width="3" height="32" fill="#00ff00"/>
<rect x="564" y="655" width="3" height="27" fill="#00ff00"/>
<rect x="580" y="655" width="3" height="23" fill="#00ff00"/>
<rect x="596" y="655" width="3" height="18" fill="#00ff00"/>
<rect x="612" y="655" width="3" height="13" fill="#00ff00"/>
<rect x="628" y="655" width="3" height="11" fill="#00ff00"/>
<rect x="644" y="655" width="3" height="6" fill="#00ff00"/>
<rect x="660" y="655" width="3" height="1" fill="#00ff00"/>
<rect x="676" y="651" width="3" height="4" fill="#00ff00"/>
<rect x="692" y="648" width="3" height="7" fill="#00ff00"/>
<rect x="708" y="646" width="3" height="9" fill="#00ff00"/>
<rect x="724" y="642" width="3" height="13" fill="#00ff00"/>
<rect x="740" y="638" width="3" height="17" fill="#00ff00"/>
<rect x="756" y="634" width="3" height="21" fill="#00ff00"/>
<rect x="772" y="631" width="3" height="24" fill="#00ff00"/>
<rect x="788" y="631" width="3" height="24" fill="#00ff00"/>
<rect x="804" y="631" width="3" height="24" fill="#00ff00"/>
<rect x="820" y="629" width="3" height="26" fill="#00ff00"/>
<rect x="836" y="631" width="3" height="24" fill="#00ff00"/>
<rect x="852" y="633" width="3" height="22" fill="#00ff00"/>
<rect x="868" y="634" width="3" height="21" fill="#00ff00"/>
<rect x="884" y="636" width="3" height="19" fill="#00ff00"/>
<rect x="900" y="638" width="3" height="17" fill="#00ff00"/>
<rect x="916" y="643" width="3" height="12" fill="#00ff00"/>
<rect x="932" y="648" width="3" height="7" fill="#00ff00"/>
<rect x="948" y="652" width="3" height="3" fill="#00ff00"/>
<rect x="964" y="652" width="3" height="3" fill="#00ff00"/>
<rect x="980" y="652" width="3" height="3" fill="#00ff00"/>
<rect x="996" y="654" width="3" height="1" fill="#00ff00"/>
<rect x="1012" y="654" width="3" height="1" fill="#00ff00"/>
<rect x="1028" y="655" width="3" height="2" fill="#00ff00"/>
<rect x="1044" y="655" width="3" height="1" fill="#00ff00"/>
<rect x="1060" y="653" width="3" height="2" fill="#00ff00"/>
<rect x="1076" y="653" width="3" height="2" fill="#00ff00"/>
<rect x="1092" y="653" width="3" height="2" fill="#00ff00"/>
<rect x="1108" y="653" width="3" height="2" fill="#00ff00"/>
<rect x="1124" y="651" width="3" height="4" fill="#00ff00"/>
<rect x="1140" y="650" width="3" height="5" fill="#00ff00"/>
<rect x="1156" y="649" width="3" height="6" fill="#00ff00"/>
<rect x="1172" y="648" width="3" height="7" fill="#00ff00"/>
<rect x="1188" y="648" width="3" height="7" fill="#00ff00"/>
<rect x="1204" y="644" width="3" height="11" fill="#00ff00"/>
<rect x="1220" y="640" width="3" height="15" fill="#00ff00"/>
<rect x="1236" y="637" width="3" height="18" fill="#00ff00"/>
<rect x="1252" y="634" width="3" height="21" fill="#00ff00"/>
<polyline points="5.5,634.3 21.5,635.2 40.5,636.5 53.5,637.6 69.5,639.3 85.5,642 101.5,645.2 117.5,649.3 133.5,653.8 149.5,658.2 165.5,662.5 181.5,668.4 197.5,673.8 213.5,678.8 229.5,683.8 245.5,687.8 261.5,691.8 277.5,695.8 293.5,698.7 309.5,700.7 325.5,702.3 341.5,703.3 357.5,704.3 373.5,705.7 389.5,706 405.5,706 421.5,705.1 437.5,704.3 453.5,703.3 469.5,702.7 485.5,701.3 501.5,700.3 517.5,699.3 533.5,697.3 549.5,695.3 565.5,693.3 581.5,691.3 597.5,688.4 613.5,684.8 629.5,681.8 645.5,677.8 661.5,672.8 677.5,668.4 693.5,664.3 709.5,660.5 725.5,656.5 741.5,652.9 757.5,649.3 773.5,645.5 789.5,642.5 805.5,639.5 821.5,637.5 837.5,635.5 853.5,633.3 869.5,632.5 885.5,632 901.5,632 917.5,634 933.5,636.5 949.5,639 965.5,641.5 981.5,643.5 997.5,646 1013.5,648.5 1029.5,650.5 1045.5,652.5 1061.5,652.9 1077.5,652.9 1093.5,652.9 1109.5,652.9 1125.5,652.9 1141.5,652.9 1157.5,652.4 1173.5,651.4 1189.5,650.9 1205.5,650.6 1221.5,648.5 1237.5,647.5 1253.5,645.9" fill="none" stroke="#ff0000" stroke-width="2" stroke-linejoin="round"/>
</g>
<text transform="translate(9.5,637) scale(0.928,1)" font-size="9.698" fill="#000" stroke="#000" stroke-width="0.25" style="font-family:'Liberation Sans',sans-serif"  textLength="137.28" lengthAdjust="spacingAndGlyphs">MACD(12,26,9) 0.7309 0.3660</text>
<line x1="5" y1="731.5" x2="1612" y2="731.5" stroke="#000" stroke-width="1" stroke-dasharray="3 3" stroke-dashoffset="-1"/>
<line x1="5" y1="755.5" x2="1612" y2="755.5" stroke="#000" stroke-width="1" stroke-dasharray="3 3" stroke-dashoffset="-1"/>
<line x1="5" y1="784.5" x2="1612" y2="784.5" stroke="#000" stroke-width="1" stroke-dasharray="3 3" stroke-dashoffset="-1"/>
<polyline points="5.5,753 21.5,754 37.5,747 53.5,757 69.5,766 85.5,766 101.5,766 117.5,766 133.5,769.5 149.5,769.5 165.5,774 181.5,774 197.5,773 213.5,773 229.5,773 245.5,774.5 261.5,777 277.5,777 293.5,774 309.5,774 325.5,772.2 341.5,774.8 357.5,774.8 373.5,772.2 389.5,771.8 405.5,772.8 421.5,772.8 437.5,768.8 453.5,771.8 469.5,771.8 485.5,769 501.5,769.4 517.5,769.8 533.5,774.2 549.5,753.5 565.5,755.9 581.5,755.5 597.5,753.3 613.5,751.9 629.5,754.9 645.5,750.6 661.5,747.9 677.5,748.9 693.5,748.9 709.5,748.5 725.5,744.3 741.5,742.3 757.5,740.9 773.5,740.9 789.5,746.9 805.5,746.9 821.5,743.9 837.5,749.9 853.5,751.3 869.5,751.3 885.5,752.3 901.5,754.3 917.5,760.4 933.5,763.8 949.5,759.8 965.5,756.3 981.5,755.9 997.5,757.9 1013.5,757.9 1029.5,758.9 1045.5,752.9 1061.5,751.9 1077.5,751.9 1093.5,755.9 1109.5,752.9 1125.5,752.3 1141.5,750.3 1157.5,749.9 1173.5,749.9 1189.5,752.9 1205.5,742.9 1221.5,742.5 1237.5,740.3 1253.5,739.9" fill="none" stroke="#0c84ff" stroke-width="2" stroke-linejoin="round"/>
<text transform="translate(9.5,726) scale(0.928,1)" font-size="9.698" fill="#000" stroke="#000" stroke-width="0.25" style="font-family:'Liberation Sans',sans-serif"  textLength="72.41" lengthAdjust="spacingAndGlyphs">RSI(14) 68.3000</text>
<path d="M8 29.5H15L11.5 33.5Z" fill="#000" shape-rendering="auto"/>
<text transform="translate(20.5,34) scale(0.928,1)" font-size="9.698" fill="#000" stroke="#000" stroke-width="0.25" style="font-family:'Liberation Sans',sans-serif"  textLength="45.58" lengthAdjust="spacingAndGlyphs">USOil-,H4</text>
<text transform="translate(69.3,34) scale(0.928,1)" font-size="9.698" fill="#000" stroke="#000" stroke-width="0.25" style="font-family:'Liberation Sans',sans-serif" >78.411</text>
<text transform="translate(100.2,34) scale(0.928,1)" font-size="9.698" fill="#000" stroke="#000" stroke-width="0.25" style="font-family:'Liberation Sans',sans-serif" >78.583</text>
<text transform="translate(131,34) scale(0.928,1)" font-size="9.698" fill="#000" stroke="#000" stroke-width="0.25" style="font-family:'Liberation Sans',sans-serif" >78.333</text>
<text transform="translate(161.9,34) scale(0.928,1)" font-size="9.698" fill="#000" stroke="#000" stroke-width="0.25" style="font-family:'Liberation Sans',sans-serif" >78.392</text>
<rect x="1613" y="25" width="2" height="1" fill="#000"/>
<text transform="translate(1618,29) scale(0.928,1)" font-size="9.698" fill="#000" stroke="#000" stroke-width="0.25" style="font-family:'Liberation Sans',sans-serif" >83.280</text>
<rect x="1613" y="58" width="2" height="1" fill="#000"/>
<text transform="translate(1618,62) scale(0.928,1)" font-size="9.698" fill="#000" stroke="#000" stroke-width="0.25" style="font-family:'Liberation Sans',sans-serif" >82.540</text>
<rect x="1613" y="91" width="2" height="1" fill="#000"/>
<text transform="translate(1618,95) scale(0.928,1)" font-size="9.698" fill="#000" stroke="#000" stroke-width="0.25" style="font-family:'Liberation Sans',sans-serif" >81.780</text>
<rect x="1613" y="124" width="2" height="1" fill="#000"/>
<text transform="translate(1618,128) scale(0.928,1)" font-size="9.698" fill="#000" stroke="#000" stroke-width="0.25" style="font-family:'Liberation Sans',sans-serif" >81.040</text>
<rect x="1613" y="157" width="2" height="1" fill="#000"/>
<text transform="translate(1618,161) scale(0.928,1)" font-size="9.698" fill="#000" stroke="#000" stroke-width="0.25" style="font-family:'Liberation Sans',sans-serif" >80.300</text>
<rect x="1613" y="190" width="2" height="1" fill="#000"/>
<text transform="translate(1618,194) scale(0.928,1)" font-size="9.698" fill="#000" stroke="#000" stroke-width="0.25" style="font-family:'Liberation Sans',sans-serif" >79.540</text>
<rect x="1613" y="223" width="2" height="1" fill="#000"/>
<text transform="translate(1618,227) scale(0.928,1)" font-size="9.698" fill="#000" stroke="#000" stroke-width="0.25" style="font-family:'Liberation Sans',sans-serif" >78.800</text>
<rect x="1613" y="256" width="2" height="1" fill="#000"/>
<text transform="translate(1618,260) scale(0.928,1)" font-size="9.698" fill="#000" stroke="#000" stroke-width="0.25" style="font-family:'Liberation Sans',sans-serif" >78.040</text>
<rect x="1613" y="289" width="2" height="1" fill="#000"/>
<text transform="translate(1618,293) scale(0.928,1)" font-size="9.698" fill="#000" stroke="#000" stroke-width="0.25" style="font-family:'Liberation Sans',sans-serif" >77.300</text>
<rect x="1613" y="322" width="2" height="1" fill="#000"/>
<text transform="translate(1618,326) scale(0.928,1)" font-size="9.698" fill="#000" stroke="#000" stroke-width="0.25" style="font-family:'Liberation Sans',sans-serif" >76.560</text>
<rect x="1613" y="355" width="2" height="1" fill="#000"/>
<text transform="translate(1618,359) scale(0.928,1)" font-size="9.698" fill="#000" stroke="#000" stroke-width="0.25" style="font-family:'Liberation Sans',sans-serif" >75.800</text>
<rect x="1613" y="388" width="2" height="1" fill="#000"/>
<text transform="translate(1618,392) scale(0.928,1)" font-size="9.698" fill="#000" stroke="#000" stroke-width="0.25" style="font-family:'Liberation Sans',sans-serif" >75.060</text>
<rect x="1613" y="421" width="2" height="1" fill="#000"/>
<text transform="translate(1618,425) scale(0.928,1)" font-size="9.698" fill="#000" stroke="#000" stroke-width="0.25" style="font-family:'Liberation Sans',sans-serif" >74.300</text>
<rect x="1613" y="454" width="2" height="1" fill="#000"/>
<text transform="translate(1618,458) scale(0.928,1)" font-size="9.698" fill="#000" stroke="#000" stroke-width="0.25" style="font-family:'Liberation Sans',sans-serif" >73.560</text>
<rect x="1613" y="487" width="2" height="1" fill="#000"/>
<text transform="translate(1618,491) scale(0.928,1)" font-size="9.698" fill="#000" stroke="#000" stroke-width="0.25" style="font-family:'Liberation Sans',sans-serif" >72.800</text>
<rect x="1613" y="520" width="2" height="1" fill="#000"/>
<text transform="translate(1618,524) scale(0.928,1)" font-size="9.698" fill="#000" stroke="#000" stroke-width="0.25" style="font-family:'Liberation Sans',sans-serif" >72.060</text>
<rect x="1613" y="553" width="2" height="1" fill="#000"/>
<text transform="translate(1618,557) scale(0.928,1)" font-size="9.698" fill="#000" stroke="#000" stroke-width="0.25" style="font-family:'Liberation Sans',sans-serif" >71.320</text>
<rect x="1613" y="586" width="2" height="1" fill="#000"/>
<text transform="translate(1618,590) scale(0.928,1)" font-size="9.698" fill="#000" stroke="#000" stroke-width="0.25" style="font-family:'Liberation Sans',sans-serif" >70.560</text>
<rect x="1613" y="619" width="2" height="1" fill="#000"/>
<text transform="translate(1618,623) scale(0.928,1)" font-size="9.698" fill="#000" stroke="#000" stroke-width="0.25" style="font-family:'Liberation Sans',sans-serif" >69.820</text>
<rect x="1614" y="176" width="36" height="11" fill="#ff0000"/>
<text transform="translate(1618,185) scale(0.928,1)" font-size="9.698" fill="#fff" stroke="#fff" stroke-width="0.12" style="font-family:'Liberation Sans',sans-serif" >79.721</text>
<rect x="1614" y="204" width="36" height="11" fill="#ff0000"/>
<text transform="translate(1618,213) scale(0.928,1)" font-size="9.698" fill="#fff" stroke="#fff" stroke-width="0.12" style="font-family:'Liberation Sans',sans-serif" >79.087</text>
<rect x="1614" y="236" width="36" height="11" fill="#000000"/>
<text transform="translate(1618,245) scale(0.928,1)" font-size="9.698" fill="#fff" stroke="#fff" stroke-width="0.12" style="font-family:'Liberation Sans',sans-serif" >78.392</text>
<rect x="1614" y="256" width="36" height="11" fill="#ff8c00"/>
<text transform="translate(1618,265) scale(0.928,1)" font-size="9.698" fill="#fff" stroke="#fff" stroke-width="0.12" style="font-family:'Liberation Sans',sans-serif" >77.910</text>
<rect x="1614" y="293" width="36" height="11" fill="#0000ff"/>
<text transform="translate(1618,302) scale(0.928,1)" font-size="9.698" fill="#fff" stroke="#fff" stroke-width="0.12" style="font-family:'Liberation Sans',sans-serif" >77.072</text>
<rect x="1614" y="332" width="36" height="11" fill="#0000ff"/>
<text transform="translate(1618,341) scale(0.928,1)" font-size="9.698" fill="#fff" stroke="#fff" stroke-width="0.12" style="font-family:'Liberation Sans',sans-serif" >76.189</text>
<text transform="translate(1616.5,634.7) scale(0.928,1)" font-size="9.698" fill="#000" stroke="#000" stroke-width="0.25" style="font-family:'Liberation Sans',sans-serif" >1.0482</text>
<rect x="1613" y="655" width="2" height="1" fill="#000"/>
<text transform="translate(1616.5,658.4) scale(0.928,1)" font-size="9.698" fill="#000" stroke="#000" stroke-width="0.25" style="font-family:'Liberation Sans',sans-serif" >0.00</text>
<text transform="translate(1616.5,707.7) scale(0.928,1)" font-size="9.698" fill="#000" stroke="#000" stroke-width="0.25" style="font-family:'Liberation Sans',sans-serif" >-1.9909</text>
<text transform="translate(1616.5,723.7) scale(0.928,1)" font-size="9.698" fill="#000" stroke="#000" stroke-width="0.25" style="font-family:'Liberation Sans',sans-serif" >100</text>
<text transform="translate(1615,734.7) scale(0.928,1)" font-size="9.698" fill="#000" stroke="#000" stroke-width="0.25" style="font-family:'Liberation Sans',sans-serif" >80</text>
<text transform="translate(1615,758.7) scale(0.928,1)" font-size="9.698" fill="#000" stroke="#000" stroke-width="0.25" style="font-family:'Liberation Sans',sans-serif" >50</text>
<text transform="translate(1615,787.2) scale(0.928,1)" font-size="9.698" fill="#000" stroke="#000" stroke-width="0.25" style="font-family:'Liberation Sans',sans-serif" >15</text>
<text transform="translate(1616.2,793.7) scale(0.928,1)" font-size="9.698" fill="#000" stroke="#000" stroke-width="0.25" style="font-family:'Liberation Sans',sans-serif" >0</text>
<rect x="1613" y="797" width="2" height="1" fill="#000"/>
<rect x="5" y="798" width="1" height="3" fill="#000"/>
<text transform="translate(4.2,810) scale(0.928,1)" font-size="9.698" fill="#000" stroke="#000" stroke-width="0.25" style="font-family:'Liberation Sans',sans-serif"  textLength="50.0" lengthAdjust="spacingAndGlyphs">5 Dec 2022</text>
<rect x="69" y="798" width="1" height="3" fill="#000"/>
<text transform="translate(68.2,810) scale(0.928,1)" font-size="9.698" fill="#000" stroke="#000" stroke-width="0.25" style="font-family:'Liberation Sans',sans-serif"  textLength="53.66" lengthAdjust="spacingAndGlyphs">5 Dec 16:00</text>
<rect x="133" y="798" width="1" height="3" fill="#000"/>
<text transform="translate(132.2,810) scale(0.928,1)" font-size="9.698" fill="#000" stroke="#000" stroke-width="0.25" style="font-family:'Liberation Sans',sans-serif"  textLength="53.66" lengthAdjust="spacingAndGlyphs">6 Dec 08:00</text>
<rect x="197" y="798" width="1" height="3" fill="#000"/>
<text transform="translate(196.2,810) scale(0.928,1)" font-size="9.698" fill="#000" stroke="#000" stroke-width="0.25" style="font-family:'Liberation Sans',sans-serif"  textLength="53.66" lengthAdjust="spacingAndGlyphs">7 Dec 00:00</text>
<rect x="261" y="798" width="1" height="3" fill="#000"/>
<text transform="translate(260.2,810) scale(0.928,1)" font-size="9.698" fill="#000" stroke="#000" stroke-width="0.25" style="font-family:'Liberation Sans',sans-serif"  textLength="53.66" lengthAdjust="spacingAndGlyphs">7 Dec 16:00</text>
<rect x="325" y="798" width="1" height="3" fill="#000"/>
<text transform="translate(324.2,810) scale(0.928,1)" font-size="9.698" fill="#000" stroke="#000" stroke-width="0.25" style="font-family:'Liberation Sans',sans-serif"  textLength="53.66" lengthAdjust="spacingAndGlyphs">8 Dec 08:00</text>
<rect x="389" y="798" width="1" height="3" fill="#000"/>
<text transform="translate(388.2,810) scale(0.928,1)" font-size="9.698" fill="#000" stroke="#000" stroke-width="0.25" style="font-family:'Liberation Sans',sans-serif"  textLength="53.66" lengthAdjust="spacingAndGlyphs">9 Dec 00:00</text>
<rect x="453" y="798" width="1" height="3" fill="#000"/>
<text transform="translate(452.2,810) scale(0.928,1)" font-size="9.698" fill="#000" stroke="#000" stroke-width="0.25" style="font-family:'Liberation Sans',sans-serif"  textLength="53.66" lengthAdjust="spacingAndGlyphs">9 Dec 16:00</text>
<rect x="517" y="798" width="1" height="3" fill="#000"/>
<text transform="translate(516.2,810) scale(0.928,1)" font-size="9.698" fill="#000" stroke="#000" stroke-width="0.25" style="font-family:'Liberation Sans',sans-serif"  textLength="57.97" lengthAdjust="spacingAndGlyphs">12 Dec 04:00</text>
<rect x="581" y="798" width="1" height="3" fill="#000"/>
<text transform="translate(580.2,810) scale(0.928,1)" font-size="9.698" fill="#000" stroke="#000" stroke-width="0.25" style="font-family:'Liberation Sans',sans-serif"  textLength="57.97" lengthAdjust="spacingAndGlyphs">12 Dec 20:00</text>
<rect x="645" y="798" width="1" height="3" fill="#000"/>
<text transform="translate(644.2,810) scale(0.928,1)" font-size="9.698" fill="#000" stroke="#000" stroke-width="0.25" style="font-family:'Liberation Sans',sans-serif"  textLength="57.97" lengthAdjust="spacingAndGlyphs">13 Dec 12:00</text>
<rect x="709" y="798" width="1" height="3" fill="#000"/>
<text transform="translate(708.2,810) scale(0.928,1)" font-size="9.698" fill="#000" stroke="#000" stroke-width="0.25" style="font-family:'Liberation Sans',sans-serif"  textLength="57.97" lengthAdjust="spacingAndGlyphs">14 Dec 04:00</text>
<rect x="773" y="798" width="1" height="3" fill="#000"/>
<text transform="translate(772.2,810) scale(0.928,1)" font-size="9.698" fill="#000" stroke="#000" stroke-width="0.25" style="font-family:'Liberation Sans',sans-serif"  textLength="57.97" lengthAdjust="spacingAndGlyphs">14 Dec 20:00</text>
<rect x="837" y="798" width="1" height="3" fill="#000"/>
<text transform="translate(836.2,810) scale(0.928,1)" font-size="9.698" fill="#000" stroke="#000" stroke-width="0.25" style="font-family:'Liberation Sans',sans-serif"  textLength="57.97" lengthAdjust="spacingAndGlyphs">15 Dec 12:00</text>
<rect x="901" y="798" width="1" height="3" fill="#000"/>
<text transform="translate(900.2,810) scale(0.928,1)" font-size="9.698" fill="#000" stroke="#000" stroke-width="0.25" style="font-family:'Liberation Sans',sans-serif"  textLength="57.97" lengthAdjust="spacingAndGlyphs">16 Dec 04:00</text>
<rect x="965" y="798" width="1" height="3" fill="#000"/>
<text transform="translate(964.2,810) scale(0.928,1)" font-size="9.698" fill="#000" stroke="#000" stroke-width="0.25" style="font-family:'Liberation Sans',sans-serif"  textLength="57.97" lengthAdjust="spacingAndGlyphs">18 Dec 23:00</text>
<rect x="1029" y="798" width="1" height="3" fill="#000"/>
<text transform="translate(1028.2,810) scale(0.928,1)" font-size="9.698" fill="#000" stroke="#000" stroke-width="0.25" style="font-family:'Liberation Sans',sans-serif"  textLength="57.97" lengthAdjust="spacingAndGlyphs">19 Dec 12:00</text>
<rect x="1093" y="798" width="1" height="3" fill="#000"/>
<text transform="translate(1092.2,810) scale(0.928,1)" font-size="9.698" fill="#000" stroke="#000" stroke-width="0.25" style="font-family:'Liberation Sans',sans-serif"  textLength="57.97" lengthAdjust="spacingAndGlyphs">20 Dec 04:00</text>
<rect x="1157" y="798" width="1" height="3" fill="#000"/>
<text transform="translate(1156.2,810) scale(0.928,1)" font-size="9.698" fill="#000" stroke="#000" stroke-width="0.25" style="font-family:'Liberation Sans',sans-serif"  textLength="57.97" lengthAdjust="spacingAndGlyphs">20 Dec 20:00</text>
<rect x="1221" y="798" width="1" height="3" fill="#000"/>
<text transform="translate(1220.2,810) scale(0.928,1)" font-size="9.698" fill="#000" stroke="#000" stroke-width="0.25" style="font-family:'Liberation Sans',sans-serif"  textLength="57.97" lengthAdjust="spacingAndGlyphs">21 Dec 12:00</text>
</svg>
</body></html>
